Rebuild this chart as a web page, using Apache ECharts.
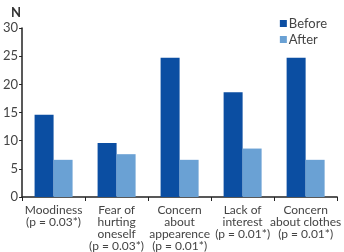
<!DOCTYPE html>
<html>
<head>
<meta charset="utf-8">
<script src="https://cdn.jsdelivr.net/npm/echarts@6/dist/echarts.min.js"></script>
<style>
  html, body { margin: 0; padding: 0; background: #fff; }
  #chart { width: 344px; height: 252px; }
</style>
</head>
<body>
<div id="chart"></div>
<script>
const categories = [
  'Moodiness\n(p = 0.03*)',
  'Fear of\nhurting\noneself\n(p = 0.03*)',
  'Concern\nabout\nappearence\n(p = 0.01*)',
  'Lack of\ninterest\n(p = 0.01*)',
  'Concern\nabout clothes\n(p = 0.01*)'
];
const before = [14.6, 9.6, 24.7, 18.6, 24.7];
const after = [6.6, 7.6, 6.6, 8.6, 6.6];
const yTicks = [0, 5, 10, 15, 20, 25, 30];

const font = 'Lato, "Open Sans", sans-serif';
const chart = echarts.init(document.getElementById('chart'));

const option = {
  animation: false,
  textStyle: { fontFamily: font },
  title: {
    text: 'N',
    left: 6,
    top: 1,
    textStyle: { fontSize: 13, fontWeight: 'bold', color: '#333', fontFamily: font }
  },
  legend: {
    orient: 'vertical',
    right: 12,
    top: 12,
    itemWidth: 7,
    itemHeight: 7,
    itemGap: 3,
    icon: 'rect',
    textStyle: { fontSize: 13, color: '#444', padding: [0, 0, 0, -3] },
    data: ['Before', 'After']
  },
  grid: { left: 20, right: 6, top: 28, bottom: 55 },
  xAxis: {
    type: 'category',
    data: categories,
    axisLine: { lineStyle: { color: '#222', width: 1.5 } },
    axisTick: { show: true, length: 4, lineStyle: { color: '#222' } },
    axisLabel: {
      interval: 0,
      fontSize: 12,
      lineHeight: 12,
      color: '#444',
      margin: 7
    }
  },
  yAxis: {
    type: 'value',
    min: yTicks[0],
    max: yTicks[yTicks.length - 1],
    interval: 5,
    axisLine: { show: true, lineStyle: { color: '#222', width: 1.5 } },
    axisTick: { show: true, length: 3, lineStyle: { color: '#222' } },
    splitLine: { show: false },
    axisLabel: { fontSize: 13, color: '#444', margin: 4 }
  },
  series: [
    {
      name: 'Before',
      type: 'bar',
      data: before,
      barWidth: 19,
      barGap: '0%',
      itemStyle: { color: '#0b4ea2' }
    },
    {
      name: 'After',
      type: 'bar',
      data: after,
      barWidth: 19,
      itemStyle: { color: '#6aa1d4' }
    }
  ]
};
chart.setOption(option);
</script>
</body>
</html>
